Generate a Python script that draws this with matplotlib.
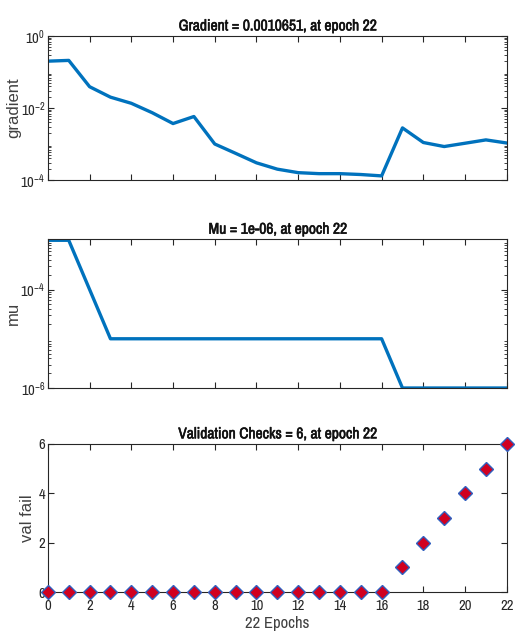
import matplotlib
matplotlib.use("Agg")
import matplotlib.pyplot as plt
from matplotlib import font_manager
import matplotlib.patheffects as pe
import numpy as np

# prefer a condensed face if one is installed
names = sorted({f.name for f in font_manager.fontManager.ttflist})
narrow = [n for n in names if 'Narrow' in n or 'Condensed' in n]
plt.rcParams['font.family'] = narrow[:1] + ['Liberation Sans', 'DejaVu Sans']
plain = ['Liberation Sans', 'DejaVu Sans']

# values
epochs = list(range(23))
gradient = [0.20, 0.21, 0.039, 0.020, 0.0135, 0.0074, 0.0037, 0.0058, 0.0010, 0.00055,
            0.00030, 0.00020, 0.00016, 0.00015, 0.00015, 0.000142, 0.00013, 0.0028,
            0.0011, 0.00085, 0.00105, 0.0013, 0.0010651]
mu = [1e-3, 1e-3, 1e-4] + [1e-5] * 14 + [1e-6] * 6
val_fail = [0] * 17 + [1, 2, 3, 4, 5, 6]

titles = ["Gradient = 0.0010651, at epoch 22",
          "Mu = 1e-06, at epoch 22",
          "Validation Checks = 6, at epoch 22"]
ylabels = ["gradient", "mu", "val fail"]
label_x = [-0.057, -0.059, -0.029]
xticks = list(range(0, 23, 2))

blue = '#0072BD'
txt = '#262626'

fig = plt.figure(figsize=(5.15, 6.44), dpi=100)
ax1 = fig.add_axes([0.093, 0.7205, 0.891, 0.2236])
ax2 = fig.add_axes([0.093, 0.3975, 0.891, 0.231])
ax3 = fig.add_axes([0.093, 0.0807, 0.891, 0.230])

ax1.semilogy(epochs, gradient, color=blue, lw=2.4)
ax1.set_ylim(1e-4, 1)
ax1.set_yticks([1e-4, 1e-2, 1])

ax2.semilogy(epochs, mu, color=blue, lw=2.4)
ax2.set_ylim(1e-6, 1.05e-3)
ax2.set_yticks([1e-6, 1e-4])

ax3.plot(epochs, val_fail, 'D', color=blue, markerfacecolor='#D00020',
         markeredgecolor='#3060C0', markersize=7, markeredgewidth=1.0, clip_on=False, zorder=5)
ax3.set_ylim(0, 6)
ax3.set_yticks([0, 2, 4, 6])

for ax, t, yl, lx in zip([ax1, ax2, ax3], titles, ylabels, label_x):
    ax.set_xlim(0, 22)
    ax.set_xticks(xticks)
    tt = ax.set_title(t, fontsize=11.2, fontweight='bold', pad=4, color='#111111')
    tt.set_path_effects([pe.withStroke(linewidth=0.4, foreground='#111111')])
    ax.set_ylabel(yl, fontsize=12, color='#404040', family=plain)
    ax.yaxis.set_label_coords(lx, 0.5)
    ax.tick_params(which='both', direction='in', top=True, right=True,
                   labelsize=10.5, colors=txt, length=4, pad=2)
    ax.tick_params(which='minor', length=2)
    for s in ax.spines.values():
        s.set_color(txt)
        s.set_linewidth(0.8)

ax1.set_xticklabels([])
ax2.set_xticklabels([])
ax3.set_xticklabels([str(x) for x in xticks])
ax3.tick_params(axis='x', pad=5)
ax3.set_xlabel("22 Epochs", fontsize=12, color='#404040', labelpad=2)

fig.savefig("out.png", dpi=100)
